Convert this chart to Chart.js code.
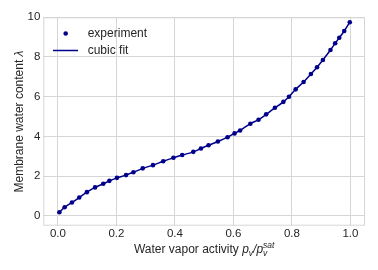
<!DOCTYPE html>
<html>
<head>
<meta charset="utf-8">
<script src="https://cdn.jsdelivr.net/npm/chart.js@4"></script>
<style>
  html, body { margin: 0; padding: 0; background: #fff; }
  #wrap { width: 378px; height: 270px; }
</style>
</head>
<body>
<div id="wrap"><canvas id="chart" width="378" height="270"></canvas></div>
<script>
// water vapor activity p_v / p_v^sat
const activity = [0.005, 0.023, 0.048, 0.073, 0.099, 0.127, 0.155, 0.176, 0.202, 0.233,
  0.258, 0.290, 0.325, 0.360, 0.395, 0.425, 0.463, 0.489, 0.515, 0.547,
  0.580, 0.604, 0.623, 0.658, 0.686, 0.712, 0.742, 0.771, 0.790, 0.813,
  0.840, 0.865, 0.886, 0.906, 0.932, 0.948, 0.962, 0.979, 0.998];
// measured membrane water content lambda
const lambdaExp = [0.18, 0.43, 0.67, 0.92, 1.19, 1.43, 1.61, 1.76, 1.91, 2.05,
  2.19, 2.39, 2.55, 2.75, 2.92, 3.06, 3.22, 3.39, 3.55, 3.74,
  3.96, 4.15, 4.30, 4.64, 4.84, 5.11, 5.44, 5.74, 6.00, 6.37,
  6.74, 7.14, 7.48, 7.85, 8.35, 8.69, 8.97, 9.31, 9.75];
// cubic fit curve
const fitActivity = activity;
const fitLambda = lambdaExp;

const xTicks = [0.0, 0.2, 0.4, 0.6, 0.8, 1.0];
const yTicks = [0, 2, 4, 6, 8, 10];

const FONT = "'Liberation Sans', Arial, sans-serif";
const TEXT = '#262626';
const GRID = '#d6d6d6';
const NAVY = '#00008b';

const toPoints = (xs, ys) => xs.map((x, i) => ({ x: x, y: ys[i] }));

const extras = {
  id: 'extras',
  beforeDatasetsDraw(chart) {
    const { ctx, chartArea: a } = chart;
    ctx.save();
    ctx.strokeStyle = GRID;
    ctx.lineWidth = 1;
    ctx.strokeRect(a.left + 0.5, a.top + 0.5, a.right - a.left - 1, a.bottom - a.top - 1);
    ctx.restore();
  },
  afterDraw(chart) {
    const { ctx, chartArea: a } = chart;
    ctx.save();
    ctx.fillStyle = TEXT;

    // x axis label with math part
    const big = '12px ' + FONT;
    const bigIt = 'italic 12px ' + FONT;
    const small = 'italic 8.5px ' + FONT;
    const plain = 'Water vapor activity ';
    ctx.font = big;
    const w1 = ctx.measureText(plain).width;
    ctx.font = bigIt;
    const wp = ctx.measureText('p').width;
    const wsl = ctx.measureText('/').width;
    ctx.font = small;
    const wv = ctx.measureText('v').width;
    const wsat = ctx.measureText('sat').width;
    const total = w1 + wp + wv + wsl + wp + Math.max(wv, wsat);
    let x = (a.left + a.right) / 2 - total / 2;
    const base = 253;
    ctx.textBaseline = 'alphabetic';
    ctx.textAlign = 'left';
    ctx.font = big;
    ctx.fillText(plain, x, base); x += w1;
    ctx.font = bigIt;
    ctx.fillText('p', x, base); x += wp;
    ctx.font = small;
    ctx.fillText('v', x, base + 3); x += wv;
    ctx.font = bigIt;
    ctx.fillText('/', x, base); x += wsl;
    ctx.fillText('p', x, base); x += wp;
    ctx.font = small;
    ctx.fillText('v', x, base + 3);
    ctx.fillText('sat', x, base - 5.5);

    // y axis label
    ctx.save();
    ctx.translate(22.7, (a.top + a.bottom) / 2);
    ctx.rotate(-Math.PI / 2);
    const ylab = 'Membrane water content ';
    ctx.font = big;
    const wy = ctx.measureText(ylab).width;
    ctx.font = bigIt;
    const wl = ctx.measureText('\u03bb').width;
    let yx = -(wy + wl) / 2;
    ctx.font = big;
    ctx.fillText(ylab, yx, 0);
    ctx.font = bigIt;
    ctx.fillText('\u03bb', yx + wy, 0);
    ctx.restore();

    // legend
    const ds = chart.data.datasets;
    ctx.font = big;
    ctx.textBaseline = 'middle';
    ctx.fillStyle = NAVY;
    ctx.beginPath();
    ctx.arc(65.7, 33.5, 2.3, 0, Math.PI * 2);
    ctx.fill();
    ctx.strokeStyle = NAVY;
    ctx.lineWidth = 1.5;
    ctx.beginPath();
    ctx.moveTo(53, 50.5);
    ctx.lineTo(78, 50.5);
    ctx.stroke();
    ctx.fillStyle = TEXT;
    ctx.fillText(ds[0].label, 87.7, 33.5);
    ctx.fillText(ds[1].label, 87.7, 50.5);
    ctx.restore();
  }
};

new Chart(document.getElementById('chart'), {
  type: 'scatter',
  data: {
    datasets: [
      {
        label: 'experiment',
        data: toPoints(activity, lambdaExp),
        backgroundColor: NAVY,
        borderColor: NAVY,
        pointRadius: 2.3,
        pointBorderWidth: 0,
        showLine: false
      },
      {
        label: 'cubic fit',
        data: toPoints(fitActivity, fitLambda),
        borderColor: NAVY,
        backgroundColor: NAVY,
        borderWidth: 1.5,
        pointRadius: 0,
        showLine: true,
        cubicInterpolationMode: 'monotone'
      }
    ]
  },
  options: {
    responsive: false,
    animation: false,
    events: [],
    layout: { padding: { top: 17.3, right: 13, left: 0, bottom: 0 } },
    plugins: { legend: { display: false }, tooltip: { enabled: false } },
    scales: {
      x: {
        type: 'linear',
        min: -0.05,
        max: 1.05,
        afterBuildTicks: s => { s.ticks = xTicks.map(v => ({ value: v })); },
        afterFit: s => { s.height = 44.3; },
        grid: { color: GRID, drawTicks: false, lineWidth: 1 },
        border: { display: false },
        ticks: {
          padding: 1,
          color: TEXT,
          font: { family: FONT, size: 11.5 },
          callback: v => v.toFixed(1)
        }
      },
      y: {
        type: 'linear',
        min: -0.5,
        max: 10,
        afterBuildTicks: s => { s.ticks = yTicks.map(v => ({ value: v })); },
        afterFit: s => { s.width = 43.3; },
        grid: { color: GRID, drawTicks: false, lineWidth: 1 },
        border: { display: false },
        ticks: {
          padding: 3,
          color: TEXT,
          font: { family: FONT, size: 11.5 },
          callback: v => String(v)
        }
      }
    }
  },
  plugins: [extras]
});
</script>
</body>
</html>
